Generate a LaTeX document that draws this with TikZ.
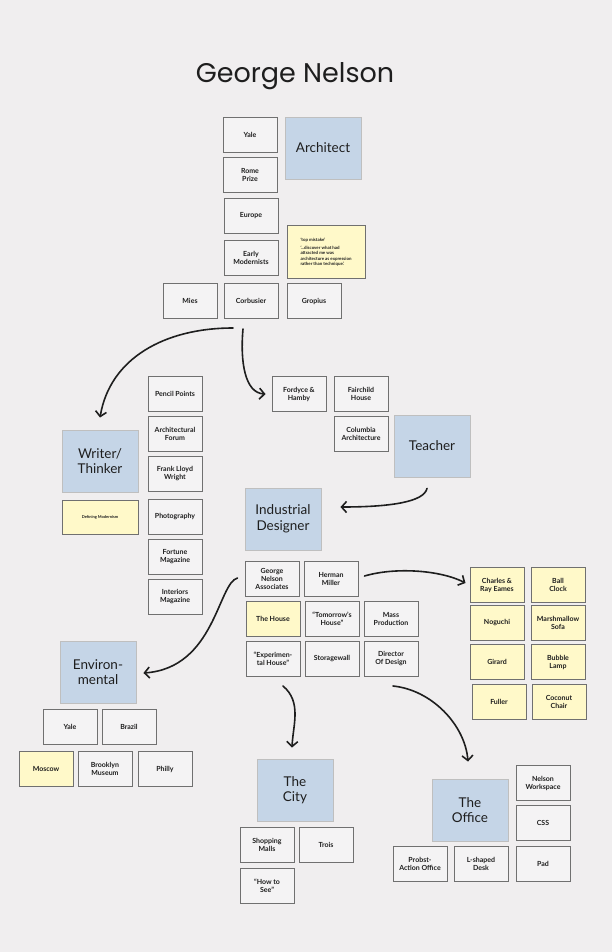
\documentclass[tikz,border=0pt]{standalone}
\usepackage{fontspec}
\setmainfont{Lato}
\newfontfamily\titlefont{Poppins}
\usetikzlibrary{arrows.meta, calc}
\definecolor{paper}{HTML}{F0EEEF}
\definecolor{rolefill}{HTML}{C5D5E7}
\definecolor{notefill}{HTML}{FFF9C9}
\definecolor{edge}{HTML}{707070}
\definecolor{ink}{HTML}{1E1E1E}
\tikzset{
	item/.style={draw=edge, line width=1pt, fill=paper!70!white, text=ink, minimum width=54pt, minimum height=35pt, inner sep=1pt, align=center, font=\bfseries\fontsize{7}{8}\selectfont},
	note/.style={item, fill=notefill},
	role/.style={draw=black!25, line width=0.9pt, fill=rolefill, text=ink, minimum width=76pt, minimum height=62pt, inner sep=2pt, align=center, font=\fontsize{13.5}{15.5}\selectfont},
}

\begin{document}
\begin{tikzpicture}[x=1pt, y=-1pt]
		\fill[paper] (0,0) rectangle (612,952);
		\useasboundingbox (0,0) rectangle (612,952);
		
		\node (title) [font=\titlefont\fontsize{27}{30}\selectfont, text=ink] at (295,76) {George Nelson};
		
		% architect
		\node (arch) [role] at (323,148) {Architect};
		\node (yale) [item] at (250,135) {Yale};
		\node (rome) [item] at (250,175) {Rome\\Prize};
		\node (europe) [item] at (251,216) {Europe};
		\node (early) [item] at (251,258) {Early\\Modernists};
		\node (quote) [note, minimum width=78pt, minimum height=53pt, align=left, font=\bfseries\fontsize{4.4}{5.4}\selectfont] at (326,252) {`top mistake'\\[3pt] `...discover what had\\attracted me was\\architecture as expression\\rather than technique.'};
		\node (mies) [item] at (190,301) {Mies};
		\node (corb) [item] at (251,301) {Corbusier};
		\node (gropius) [item] at (314,301) {Gropius};
		
		% writer
		\node (writer) [role] at (100,461) {Writer/\\Thinker};
		\node (defmod) [note, minimum width=76pt, minimum height=34pt, font=\bfseries\fontsize{4}{5}\selectfont] at (100,517) {Defining Modernism};
		\node (pencil) [item] at (175,394) {Pencil Points};
		\node (forum) [item] at (175,434) {Architectural\\Forum};
		\node (flw) [item] at (175,474) {Frank Lloyd\\Wright};
		\node (photo) [item] at (175,517) {Photography};
		\node (fortune) [item] at (175,557) {Fortune\\Magazine};
		\node (interiors) [item] at (175,597) {Interiors\\Magazine};
		
		% teacher
		\node (teacher) [role] at (432,446) {Teacher};
		\node (fordyce) [item] at (299,394) {Fordyce \&\\Hamby};
		\node (fairchild) [item] at (361,394) {Fairchild\\House};
		\node (columbia) [item] at (361,434) {Columbia\\Architecture};
		
		% industrial designer
		\node (ind) [role] at (283,519) {Industrial\\Designer};
		\node (gna) [item] at (272,579) {George\\Nelson\\Associates};
		\node (miller) [item] at (331,579) {Herman\\Miller};
		\node (house) [note] at (273,619) {The House};
		\node (tomorrow) [item] at (332,619) {``Tomorrow's\\House''};
		\node (mass) [item] at (391,619) {Mass\\Production};
		\node (expt) [item] at (273,659) {``Experimen-\\tal House''};
		\node (storage) [item] at (332,659) {Storagewall};
		\node (director) [item] at (391,659) {Director\\Of Design};
		
		% herman miller designers
		\node (eames) [note] at (497,585) {Charles \&\\Ray Eames};
		\node (clock) [note] at (558,585) {Ball\\Clock};
		\node (noguchi) [note] at (497,623) {Noguchi};
		\node (sofa) [note] at (558,623) {Marshmallow\\Sofa};
		\node (girard) [note] at (497,662) {Girard};
		\node (lamp) [note] at (558,662) {Bubble\\Lamp};
		\node (fuller) [note] at (499,702) {Fuller};
		\node (chair) [note] at (559,702) {Coconut\\Chair};
		
		% environmental
		\node (env) [role] at (98,672) {Environ-\\mental};
		\node (yale2) [item] at (70,727) {Yale};
		\node (brazil) [item] at (129,727) {Brazil};
		\node (moscow) [note] at (46,769) {Moscow};
		\node (brooklyn) [item] at (105,769) {Brooklyn\\Museum};
		\node (philly) [item] at (165,769) {Philly};
		
		% city
		\node (city) [role] at (295,790) {The\\City};
		\node (malls) [item] at (267,845) {Shopping\\Malls};
		\node (trois) [item] at (326,845) {Trois};
		\node (howto) [item] at (267,886) {``How to\\See''};
		
		% office
		\node (office) [role] at (470,810) {The\\Office};
		\node (workspace) [item] at (543,783) {Nelson\\Workspace};
		\node (css) [item] at (543,823) {CSS};
		\node (probst) [item] at (420,864) {Probst-\\Action Office};
		\node (desk) [item] at (481,864) {L-shaped\\Desk};
		\node (pad) [item] at (543,864) {Pad};
		
		\begin{scope}[line width=1.6pt, ink, -{Straight Barb[length=5pt, width=11pt]}, line cap=round]
			\draw ($(corb.south)+(-18,9)$) .. controls (165,328) and (110,358) .. ($(writer.north)+(0,-12)$);
			\draw ($(corb.south)+(-8,10)$) .. controls (240,362) and (245,393) .. ($(fordyce.west)+(-6,0)$);
			\draw ($(teacher.south)+(-5,11)$) .. controls (424,502) and (390,507) .. ($(ind.east)+(19,-12)$);
			\draw ($(gna.west)+(-7,-1)$) .. controls (218,583) and (215,668) .. ($(env.east)+(7,1)$);
			\draw ($(miller.east)+(6,-3)$) .. controls (395,567) and (440,570) .. ($(eames.west)+(-4,-2)$);
			\draw ($(expt.south)+(10,9)$) .. controls (302,702) and (293,725) .. ($(city.north)+(-3,-11)$);
			\draw ($(director.south)+(2,9)$) .. controls (432,690) and (465,725) .. ($(office.north)+(-2,-17)$);
		\end{scope}
\end{tikzpicture}
\end{document}
